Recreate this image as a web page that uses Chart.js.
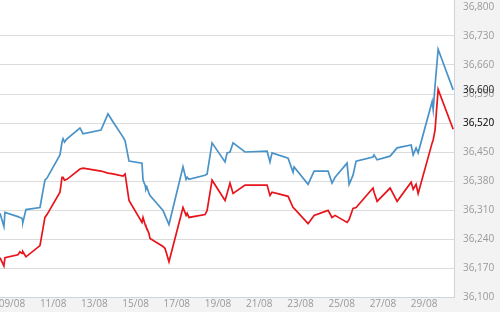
<!DOCTYPE html>
<html>
<head>
<meta charset="utf-8">
<script src="https://cdn.jsdelivr.net/npm/chart.js@4.4.0/dist/chart.umd.min.js"></script>
<style>
    html, body { margin: 0; padding: 0; background: #f3f3f3; }
    #chart { display: block; }
</style>
</head>
<body>
<canvas id="chart" width="500" height="312"></canvas>
<script>
const chartCanvas =
    document.getElementById("chart");


// time of each quote, in days of August
const days = [
    8.42, 8.61, 8.66, 9.29, 9.39, 9.49, 9.53, 9.68, 10.36, 10.60,
    10.70, 11.33, 11.43, 11.48, 11.55, 11.67, 12.30, 12.45, 13.32, 13.66,
    13.90, 14.39, 14.49, 14.68, 15.31, 15.36, 15.46, 15.50, 15.55, 15.65,
    15.70, 16.33, 16.43, 16.62, 17.30, 17.45, 17.50, 17.59, 18.37, 18.47,
    18.71, 19.34, 19.44, 19.58, 19.73, 20.31, 21.38, 21.52, 21.62, 22.40,
    22.64, 22.69, 23.37, 23.66, 24.34, 24.53, 24.68, 25.26, 25.36, 25.55,
    25.70, 26.52, 26.57, 26.72, 27.35, 27.69, 28.37, 28.47, 28.61, 28.71,
    29.39, 29.44, 29.53, 29.68, 30.41
];

// blue line
const sellValues = [
    36302, 36270, 36304, 36294, 36292, 36290, 36280, 36311, 36316, 36382,
    36387, 36443, 36474, 36482, 36474, 36482, 36508, 36494, 36503, 36542,
    36523, 36486, 36477, 36428, 36423, 36382, 36370, 36360, 36365, 36350,
    36345, 36309, 36297, 36275, 36414, 36384, 36389, 36384, 36394, 36397,
    36472, 36426, 36448, 36450, 36472, 36450, 36452, 36426, 36448, 36435,
    36401, 36414, 36372, 36404, 36404, 36375, 36389, 36423, 36372, 36394,
    36428, 36438, 36443, 36431, 36440, 36460, 36467, 36443, 36460, 36448,
    36572, 36552, 36610, 36698, 36600
];

// red line
const buyValues = [
    36195, 36175, 36195, 36202, 36209, 36205, 36209, 36197, 36224, 36292,
    36299, 36353, 36389, 36389, 36382, 36384, 36409, 36411, 36404, 36399,
    36397, 36392, 36397, 36333, 36280, 36292, 36275, 36270, 36265, 36253,
    36241, 36222, 36217, 36185, 36316, 36297, 36302, 36292, 36299, 36309,
    36382, 36333, 36350, 36375, 36350, 36370, 36370, 36345, 36353, 36343,
    36316, 36314, 36277, 36297, 36309, 36292, 36297, 36280, 36287, 36314,
    36316, 36363, 36353, 36331, 36363, 36331, 36377, 36360, 36372, 36350,
    36472, 36479, 36503, 36601, 36505
];

const xTickDays = [9, 11, 13, 15, 17, 19, 21, 23, 25, 27, 29];
const xTickLabels = [
    "09/08", "11/08", "13/08", "15/08", "17/08", "19/08",
    "21/08", "23/08", "25/08", "27/08", "29/08"
];

const yTicks = [
    36100, 36170, 36240, 36310, 36380, 36450,
    36520, 36590, 36660, 36730, 36800
];

// current quotes shown in dark on the right axis
const lastQuotes = [36600, 36520];

const axisFont = { family: "Open Sans", size: 10 };


const backgroundPlugin = {
    id: "background",
    beforeDraw(chart) {
        const ctx = chart.ctx;
        const area = chart.chartArea;
        ctx.save();
        ctx.fillStyle = "#f3f3f3";
        ctx.fillRect(0, 0, chart.width, chart.height);
        ctx.fillStyle = "#ffffff";
        ctx.fillRect(0, 0, area.right, area.bottom);
        ctx.restore();
    },
    afterDraw(chart) {
        const ctx = chart.ctx;
        const area = chart.chartArea;
        const yScale = chart.scales.y;
        ctx.save();
        ctx.strokeStyle = "#cdd5dc";
        ctx.lineWidth = 1;
        ctx.beginPath();
        ctx.moveTo(Math.round(area.right) + 0.5, 0);
        ctx.lineTo(Math.round(area.right) + 0.5, area.bottom);
        ctx.stroke();

        ctx.fillStyle = "#1a1a1a";
        ctx.font = "10px 'Open Sans'";
        ctx.textBaseline = "middle";
        ctx.textAlign = "left";
        lastQuotes.forEach(q => {
            ctx.fillText(
                q.toLocaleString("en-US"),
                area.right + 9,
                yScale.getPixelForValue(q)
            );
        });
        ctx.restore();
    }
};


let chart = new Chart(chartCanvas, {

    type: "line",

    data: {
        datasets: [
            {
                label: "Bán",
                data: days.map((d, i) => ({ x: d, y: sellValues[i] })),
                borderColor: "#4a93c8",
                borderWidth: 1.7,
                pointRadius: 0,
                tension: 0,
                fill: false
            },
            {
                label: "Mua",
                data: days.map((d, i) => ({ x: d, y: buyValues[i] })),
                borderColor: "#e8141b",
                borderWidth: 1.7,
                pointRadius: 0,
                tension: 0,
                fill: false
            }
        ]
    },

    options: {

        responsive: false,
        animation: false,
        devicePixelRatio: 1,

        layout: {
            padding: { top: 7, left: 0, right: 0, bottom: 0 }
        },

        plugins: {
            legend: { display: false },
            tooltip: { enabled: false }
        },

        scales: {

            x: {
                type: "linear",
                min: 8.42,
                max: 30.45,
                grid: { display: false, drawTicks: false },
                border: { display: true, color: "#cdd5dc", width: 1 },
                afterBuildTicks: s => {
                    s.ticks = xTickDays.map(v => ({ value: v }));
                },
                ticks: {
                    autoSkip: false,
                    maxRotation: 0,
                    padding: 1,
                    color: "#999999",
                    font: axisFont,
                    callback: (v, i) => xTickLabels[i]
                },
                afterFit: s => {
                    s.height = 15;
                    s.paddingLeft = 0;
                    s.paddingRight = 0;
                }
            },

            y: {
                position: "right",
                min: 36100,
                max: 36800,
                afterBuildTicks: s => {
                    s.ticks = yTicks.map(v => ({ value: v }));
                },
                grid: {
                    drawTicks: false,
                    lineWidth: 1,
                    color: ctx =>
                        ctx.tick && ctx.tick.value === 36800
                            ? "rgba(0,0,0,0)"
                            : "#dcdcdc"
                },
                border: { display: false },
                ticks: {
                    padding: 9,
                    color: "#999999",
                    font: axisFont,
                    callback: v => v.toLocaleString("en-US")
                },
                afterFit: s => {
                    s.width = 46;
                    s.paddingTop = 0;
                    s.paddingBottom = 0;
                }
            }
        }
    },

    plugins: [backgroundPlugin]

});
</script>
</body>
</html>
